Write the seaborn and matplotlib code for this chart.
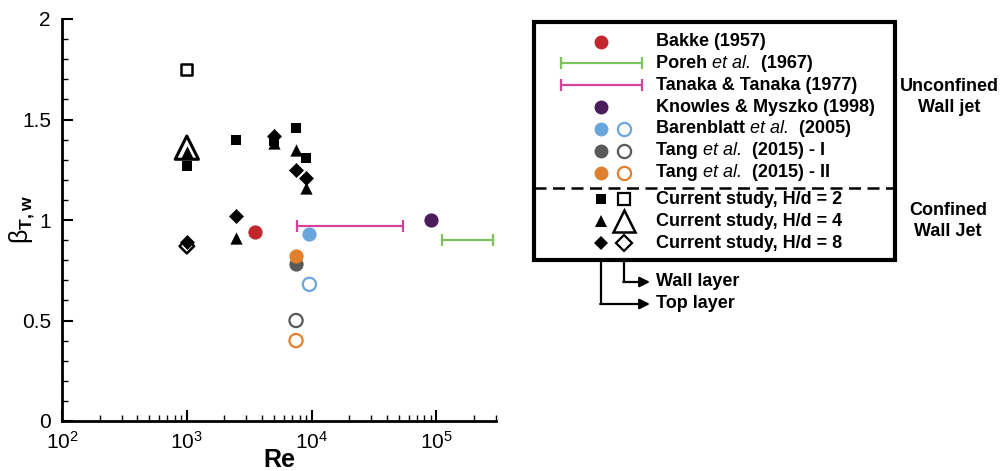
import math
import pandas as pd
import matplotlib.pyplot as plt
import seaborn as sns
from matplotlib.lines import Line2D
from matplotlib.patches import Rectangle, FancyArrowPatch
from matplotlib.ticker import FixedLocator, LogLocator, FuncFormatter, MultipleLocator, NullFormatter

sns.set_style("ticks")
plt.rcParams["font.family"] = ["Liberation Sans", "DejaVu Sans"]
plt.rcParams["mathtext.fontset"] = "custom"
plt.rcParams["mathtext.rm"] = "Liberation Sans"
plt.rcParams["mathtext.bf"] = "Liberation Sans:bold"
plt.rcParams["mathtext.it"] = "Liberation Sans:italic"
plt.rcParams["mathtext.sf"] = "Liberation Sans"
for key in ["text.color", "axes.labelcolor", "axes.edgecolor", "xtick.color", "ytick.color"]:
    plt.rcParams[key] = "black"

# current study (filled = top layer, open = wall layer)
re_cs = [1000, 2500, 5000, 7500, 9000]
beta_hd2 = [1.27, 1.40, 1.395, 1.46, 1.31]
beta_hd4 = [1.34, 0.91, 1.385, 1.35, 1.16]
beta_hd8 = [0.89, 1.02, 1.42, 1.25, 1.21]
re_wall = [1000]
beta_hd2_wall = [1.75]
beta_hd4_wall = [1.36]
beta_hd8_wall = [0.87]

# literature
bakke_re, bakke_beta = [3500], [0.94]
knowles_re, knowles_beta = [90000], [1.00]
baren_re, baren_top, baren_wall = [9600], [0.93], [0.68]
tang1_re, tang1_top, tang1_wall = [7500], [0.78], [0.50]
tang2_re, tang2_top, tang2_wall = [7500], [0.82], [0.40]
tanaka_re, tanaka_beta = [7600, 54000], [0.97, 0.97]
poreh_re, poreh_beta = [110000, 285000], [0.90, 0.90]

c_bakke = "#c1272d"
c_poreh = "#7cc35e"
c_tanaka = "#d6429b"
c_knowles = "#4b1d5c"
c_baren = "#6aa6dd"
c_tang1 = "#595959"
c_tang2 = "#e0802e"

rows = []
def add(group, xs, ys):
    for x, y in zip(xs, ys):
        rows.append({"re": x, "beta": y, "group": group})

add("hd2", re_cs, beta_hd2)
add("hd4", re_cs, beta_hd4)
add("hd8", re_cs, beta_hd8)
add("hd2_wall", re_wall, beta_hd2_wall)
add("hd4_wall", re_wall, beta_hd4_wall)
add("hd8_wall", re_wall, beta_hd8_wall)
add("bakke", bakke_re, bakke_beta)
add("knowles", knowles_re, knowles_beta)
add("baren", baren_re, baren_top)
add("baren_wall", baren_re, baren_wall)
add("tang1", tang1_re, tang1_top)
add("tang1_wall", tang1_re, tang1_wall)
add("tang2", tang2_re, tang2_top)
add("tang2_wall", tang2_re, tang2_wall)
df = pd.DataFrame(rows)

W, H = 1001, 471
fig = plt.figure(figsize=(W / 100, H / 100), dpi=100)
ax = fig.add_axes([62 / W, 50 / H, 434 / W, 402 / H])


def scat(group, marker, s, color, filled=True, lw=1.6):
    sub = df[df.group == group]
    sns.scatterplot(data=sub, x="re", y="beta", marker=marker, s=s, color=color,
                    edgecolor=color, linewidth=0 if filled else lw, ax=ax,
                    legend=False, zorder=3, clip_on=False)
    if not filled:
        ax.collections[-1].set_facecolor("none")


# open (wall layer) current study
scat("hd2_wall", "s", 60, "black", filled=False, lw=1.8)
scat("hd4_wall", "^", 280, "black", filled=False, lw=2.2)
scat("hd8_wall", "D", 55, "black", filled=False, lw=1.8)
# filled (top layer) current study
scat("hd2", "s", 58, "black")
scat("hd4", "^", 78, "black")
scat("hd8", "D", 58, "black")
# literature
scat("bakke", "o", 105, c_bakke)
scat("knowles", "o", 105, c_knowles)
scat("baren", "o", 105, c_baren)
scat("baren_wall", "o", 90, c_baren, filled=False)
scat("tang1", "o", 105, c_tang1)
scat("tang1_wall", "o", 90, c_tang1, filled=False)
scat("tang2", "o", 105, c_tang2)
scat("tang2_wall", "o", 90, c_tang2, filled=False)

ax.plot(tanaka_re, tanaka_beta, color=c_tanaka, lw=1.6, marker="|", ms=9, mew=1.6, zorder=2)
ax.plot(poreh_re, poreh_beta, color=c_poreh, lw=1.6, marker="|", ms=9, mew=1.6, zorder=2)

ax.set_xscale("log")
ax.set_xlim(100, 3e5)
ax.set_ylim(0, 2)
for side in ["top", "right"]:
    ax.spines[side].set_visible(False)
for side in ["left", "bottom"]:
    ax.spines[side].set_linewidth(2)
ax.xaxis.set_major_locator(FixedLocator([1e2, 1e3, 1e4, 1e5]))
ax.xaxis.set_minor_locator(LogLocator(base=10, subs=[2, 3, 4, 5, 6, 7, 8, 9], numticks=20))
ax.xaxis.set_minor_formatter(NullFormatter())
ax.xaxis.set_major_formatter(FuncFormatter(lambda v, p: r"$\mathsf{10^{%d}}$" % round(math.log10(v))))
ax.yaxis.set_major_locator(MultipleLocator(0.5))
ax.yaxis.set_minor_locator(MultipleLocator(0.1))
ax.yaxis.set_major_formatter(FuncFormatter(lambda v, p: "%g" % v))
ax.tick_params(which="major", direction="in", length=8, width=1.5, labelsize=15, pad=7)
ax.tick_params(which="minor", direction="in", length=4, width=1)
ax.tick_params(axis="y", which="major", pad=8)
ax.set_xlabel("Re", fontsize=18, fontweight="bold")
ax.xaxis.set_label_coords(0.5, -0.066)
ax.set_ylabel(r"$\mathsf{\beta}_{\mathbf{T,w}}$", fontsize=18)
ax.yaxis.set_label_coords(-0.058, 0.5)


# ---- custom legend drawn in figure pixels ----
def P(x, y):
    return (x / W, 1 - y / H)


def fmark(x, y, marker, ms, color, filled=True, mew=1.6):
    xx, yy = P(x, y)
    fig.add_artist(Line2D([xx], [yy], transform=fig.transFigure, marker=marker, ms=ms,
                          mfc=color if filled else "none", mec=color,
                          mew=0 if filled else mew, ls="none"))


renderer = fig.canvas.get_renderer()
fs = 13


def ptext(x, y, pieces):
    # pieces: list of (text, italic) drawn one after another
    for t, it in pieces:
        xx, yy = P(x, y)
        txt = fig.text(xx, yy, t, fontsize=fs, va="center", ha="left",
                       fontweight="normal" if it else "bold",
                       fontstyle="italic" if it else "normal")
        x = txt.get_window_extent(renderer).x1


fig.add_artist(Rectangle(P(534, 260), 361 / W, 238 / H, transform=fig.transFigure,
                         fill=False, lw=3, ec="black"))
fig.add_artist(Line2D([534 / W, 895 / W], [1 - 188 / H] * 2, transform=fig.transFigure,
                      color="black", lw=1.8, ls=(0, (4.8, 2.6))))

xf, xo, xt = 601, 624, 656
labels = [
    (42, [("Bakke (1957)", False)]),
    (63, [("Poreh ", False), ("et al.", True), ("  (1967)", False)]),
    (85, [("Tanaka & Tanaka (1977)", False)]),
    (107, [("Knowles & Myszko (1998)", False)]),
    (129, [("Barenblatt ", False), ("et al.", True), ("  (2005)", False)]),
    (151, [("Tang ", False), ("et al.", True), ("  (2015) - I", False)]),
    (173, [("Tang ", False), ("et al.", True), ("  (2015) - II", False)]),
    (199, [("Current study, H/d = 2", False)]),
    (221, [("Current study, H/d = 4", False)]),
    (243, [("Current study, H/d = 8", False)]),
]
for y, pieces in labels:
    ptext(xt, y, pieces)

fmark(xf, 42, "o", 10, c_bakke)
for y, c in [(63, c_poreh), (85, c_tanaka)]:
    x0, yy = P(561, y)
    x1, _ = P(642, y)
    fig.add_artist(Line2D([x0, x1], [yy, yy], transform=fig.transFigure, color=c, lw=1.6,
                          marker="|", ms=8, mew=1.6))
fmark(xf, 107, "o", 10, c_knowles)
for y, c in [(129, c_baren), (151, c_tang1), (173, c_tang2)]:
    fmark(xf, y, "o", 10, c)
    fmark(xo, y, "o", 9.5, c, filled=False)
fmark(xf, 199, "s", 7.2, "black")
fmark(xo, 199, "s", 8, "black", filled=False)
fmark(xf, 221, "^", 9, "black")
fmark(xo, 221, "^", 16.5, "black", filled=False, mew=1.8)
fmark(xf, 243, "D", 7.2, "black")
fmark(xo, 243, "D", 8.5, "black", filled=False)

for x, y in [(xo, 282), (xf, 304)]:
    fig.add_artist(Line2D([x / W, x / W], [1 - 262 / H, 1 - y / H], transform=fig.transFigure,
                          color="black", lw=1.6))
    fig.add_artist(FancyArrowPatch(P(x - 0.8, y), P(650, y), transform=fig.transFigure,
                                   arrowstyle="-|>", mutation_scale=15, lw=1.6, color="black",
                                   shrinkA=0, shrinkB=0))
ptext(xt, 282, [("Wall layer", False)])
ptext(xt, 304, [("Top layer", False)])

fig.text(*P(949, 97), "Unconfined\nWall jet", fontsize=fs, fontweight="bold",
         va="center", ha="center", linespacing=1.25)
fig.text(*P(948, 221), "Confined\nWall Jet", fontsize=fs, fontweight="bold",
         va="center", ha="center", linespacing=1.25)

fig.savefig("out.png", dpi=100)
